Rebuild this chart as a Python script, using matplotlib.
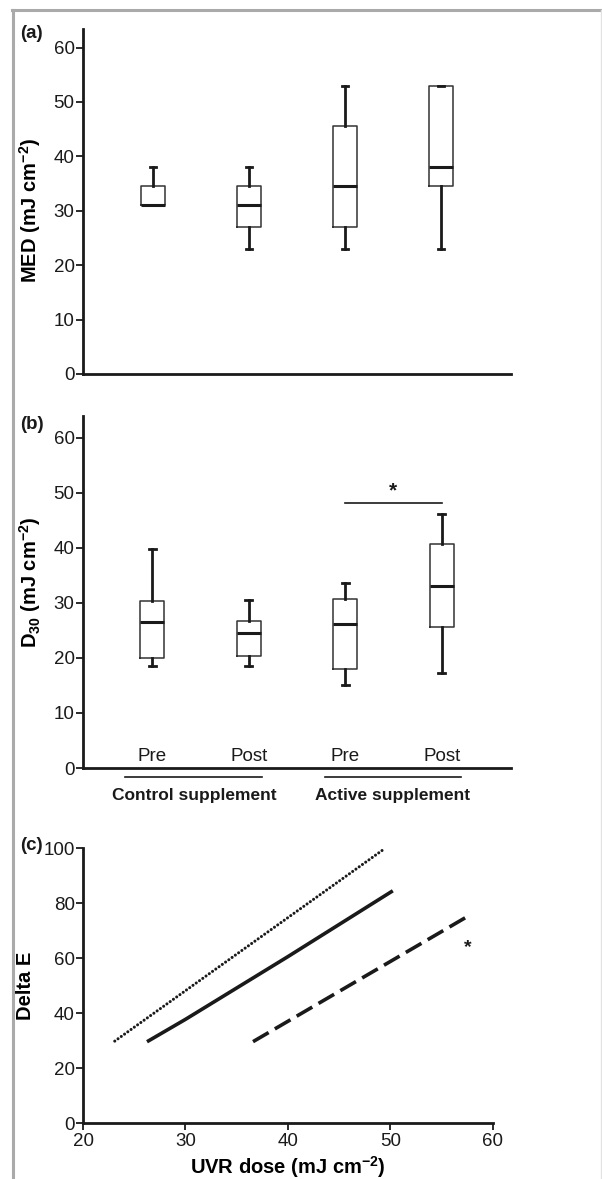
import matplotlib.pyplot as plt
from matplotlib.lines import Line2D
from matplotlib.transforms import blended_transform_factory

plt.rcParams['font.family'] = ['Liberation Sans', 'DejaVu Sans']

# panel (a): MED box stats (whislo, q1, med, q3, whishi)
med_lo = [31, 23, 23, 23]
med_q1 = [31, 27, 27, 34.5]
med_med = [31, 31, 34.5, 38]
med_q3 = [34.5, 34.5, 45.5, 53]
med_hi = [38, 38, 53, 53]

# panel (b): D30 box stats
d30_lo = [18.5, 18.5, 15, 17.3]
d30_q1 = [20, 20.3, 18, 25.6]
d30_med = [26.5, 24.5, 26.2, 33]
d30_q3 = [30.3, 26.8, 30.8, 40.8]
d30_hi = [39.8, 30.6, 33.6, 46.2]

time_labels = ['Pre', 'Post', 'Pre', 'Post']
group_labels = ['Control supplement', 'Active supplement']
sig_level = 48.2

# panel (c): fitted lines, delta E vs UVR dose
dot_x = [23.1, 49.5]
dot_y = [29.9, 100]
solid_x = [26.4, 30, 40, 50.1]
solid_y = [30, 37.8, 60.6, 84.2]
dash_x = [36.6, 57.9]
dash_y = [29.7, 76]
star_c = (57.6, 64)

fig = plt.figure(figsize=(6.02, 11.79), dpi=100)

ink = '#1a1a1a'
tick_fs = 13.5
lab_fs = 14.5


def style_axis(ax):
    for s in ['top', 'right']:
        ax.spines[s].set_visible(False)
    ax.spines['left'].set_linewidth(2)
    ax.spines['bottom'].set_linewidth(2)
    ax.spines['left'].set_color(ink)
    ax.spines['bottom'].set_color(ink)
    ax.tick_params(axis='y', length=5, width=1.3, pad=1, labelsize=tick_fs, colors=ink)


def draw_boxes(ax, lo, q1, med, q3, hi):
    stats = []
    for i in range(len(med)):
        stats.append(dict(whislo=lo[i], q1=q1[i], med=med[i], q3=q3[i], whishi=hi[i], fliers=[]))
    ax.bxp(stats, positions=range(1, len(stats) + 1), widths=0.25, capwidths=0.07,
           showfliers=False, patch_artist=False,
           boxprops=dict(color='#333333', linewidth=1.1),
           medianprops=dict(color=ink, linewidth=2.2),
           whiskerprops=dict(color=ink, linewidth=2),
           capprops=dict(color=ink, linewidth=2))


# ---- (a)
ax1 = fig.add_axes([0.1379, 0.6828, 0.711, 0.293])
draw_boxes(ax1, med_lo, med_q1, med_med, med_q3, med_hi)
ax1.set_xlim(0.27, 4.73)
ax1.set_ylim(0, 63.5)
ax1.set_yticks(range(0, 61, 10))
ax1.set_xticks([])
style_axis(ax1)
ax1.set_ylabel('MED (mJ cm$^{\\mathregular{-2}}$)', fontsize=lab_fs, fontweight='bold')
ax1.yaxis.set_label_coords(-0.093, 30 / 63.5)

# ---- (b)
ax2 = fig.add_axes([0.1379, 0.3486, 0.711, 0.2986])
draw_boxes(ax2, d30_lo, d30_q1, d30_med, d30_q3, d30_hi)
ax2.set_xlim(0.28, 4.72)
ax2.set_ylim(0, 64)
ax2.set_yticks(range(0, 61, 10))
ax2.set_xticks([])
style_axis(ax2)
ax2.set_ylabel('D$_{\\mathregular{30}}$ (mJ cm$^{\\mathregular{-2}}$)', fontsize=lab_fs, fontweight='bold')
ax2.yaxis.set_label_coords(-0.093, 0.528)
for i, t in enumerate(time_labels):
    ax2.text(i + 1, 0.6, t, ha='center', va='bottom', fontsize=tick_fs, color=ink)
ax2.plot([3, 4], [sig_level, sig_level], color=ink, linewidth=1.2)
ax2.text(3.5, sig_level + 0.5, '*', ha='center', va='bottom', fontsize=15, fontweight='bold', color=ink)
tr = blended_transform_factory(ax2.transData, ax2.transAxes)
for (x0, x1), g in zip([(0.72, 2.14), (2.79, 4.2)], group_labels):
    ax2.plot([x0, x1], [-0.026, -0.026], color=ink, linewidth=1.2, transform=tr, clip_on=False)
    ax2.text((x0 + x1) / 2, -0.078, g, ha='center', va='center', fontsize=12.5,
             fontweight='bold', color=ink, transform=tr)

# ---- (c)
ax3 = fig.add_axes([0.1379, 0.0472, 0.6805, 0.2333])
ax3.plot(dot_x, dot_y, color=ink, linewidth=2.2, linestyle=(0, (0.01, 1.3)),
         dash_capstyle='round')
ax3.plot(solid_x, solid_y, color=ink, linewidth=2.6)
ax3.plot(dash_x, dash_y, color=ink, linewidth=2.6, linestyle=(0, (5, 2)))
ax3.text(star_c[0], star_c[1], '*', ha='center', va='center', fontsize=14, fontweight='bold', color=ink)
ax3.set_xlim(20, 60)
ax3.set_ylim(0, 100)
ax3.set_xticks(range(20, 61, 10))
ax3.set_yticks(range(0, 101, 20))
style_axis(ax3)
ax3.tick_params(axis='x', length=5, width=1.3, pad=2, labelsize=tick_fs, colors=ink)
ax3.set_ylabel('Delta E', fontsize=lab_fs, fontweight='bold')
ax3.yaxis.set_label_coords(-0.117, 0.5)
ax3.set_xlabel('UVR dose (mJ cm$^{\\mathregular{-2}}$)', fontsize=lab_fs, fontweight='bold', labelpad=3)

# panel letters
for y, s in [(0.972, '(a)'), (0.640, '(b)'), (0.283, '(c)')]:
    fig.text(0.053, y, s, fontsize=13.5, fontweight='bold', va='center', ha='center', color=ink)

# gray frame
fig.add_artist(Line2D([0.02, 1.0], [0.9915, 0.9915], color='#aaaaaa', linewidth=2.2))
fig.add_artist(Line2D([0.021, 0.021], [0.0, 0.9915], color='#aaaaaa', linewidth=2.2))
fig.add_artist(Line2D([0.999, 0.999], [0.0, 0.9915], color='#e2e2e2', linewidth=1))

fig.savefig('out.png', dpi=100)
